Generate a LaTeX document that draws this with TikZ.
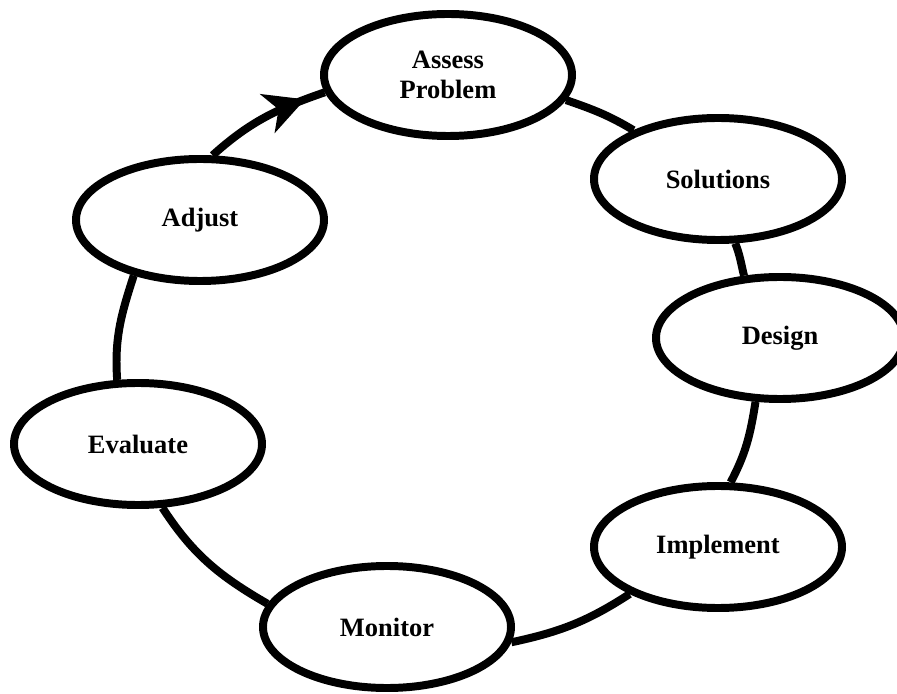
\documentclass[tikz,border=0pt]{standalone}
\usepackage{fontspec}
\setmainfont{Liberation Serif}
\usepackage{tikz}
\usetikzlibrary{arrows.meta,shapes.geometric,decorations.markings}
\tikzset{
  stage/.style={ellipse,draw=black,line width=6.8pt,fill=white,minimum width=7.44cm,minimum height=3.66cm,inner sep=0pt,align=center,font=\bfseries\fontsize{22.6}{25.6}\selectfont},
  ring/.style={line width=6.8pt,black},
  ringar/.style={ring,postaction={decorate},decoration={markings,mark=at position 0.84 with {\arrow{Stealth[length=1.2cm,width=1.23cm,inset=0.35cm]}}}}
}

\begin{document}
\begin{tikzpicture}[x=0.03cm,y=0.03cm]
\useasboundingbox (0,0) rectangle (897,693);
% the seven stages
\node[stage] (assess) at (448,618) {Assess\\Problem};
\node[stage] (sol) at (718,514) {Solutions};
\node[stage] (design) at (780,355) {Design};
\node[stage] (impl) at (718,146) {Implement};
\node[stage] (mon) at (387,66) {Monitor};
\node[stage] (eval) at (138,249) {Evaluate};
\node[stage] (adj) at (200,473) {Adjust};
% the cycle
\draw[ring] (assess.-12) to[out=-19,in=149] (sol.150);
\draw[ring] (sol.-75) to[out=-68,in=104] (design.120);
\draw[ring] (design.-111) to[out=-99,in=62] (impl.79);
\draw[ring] (impl.208) to[out=213,in=12] (mon.-7);
\draw[ring] (mon.169) to[out=150,in=-57] (eval.-69);
\draw[ring] (eval.108) to[out=94,in=-108] (adj.220);
\draw[ringar] (adj.79) to[out=42,in=199] (assess.188);
\end{tikzpicture}
\end{document}
